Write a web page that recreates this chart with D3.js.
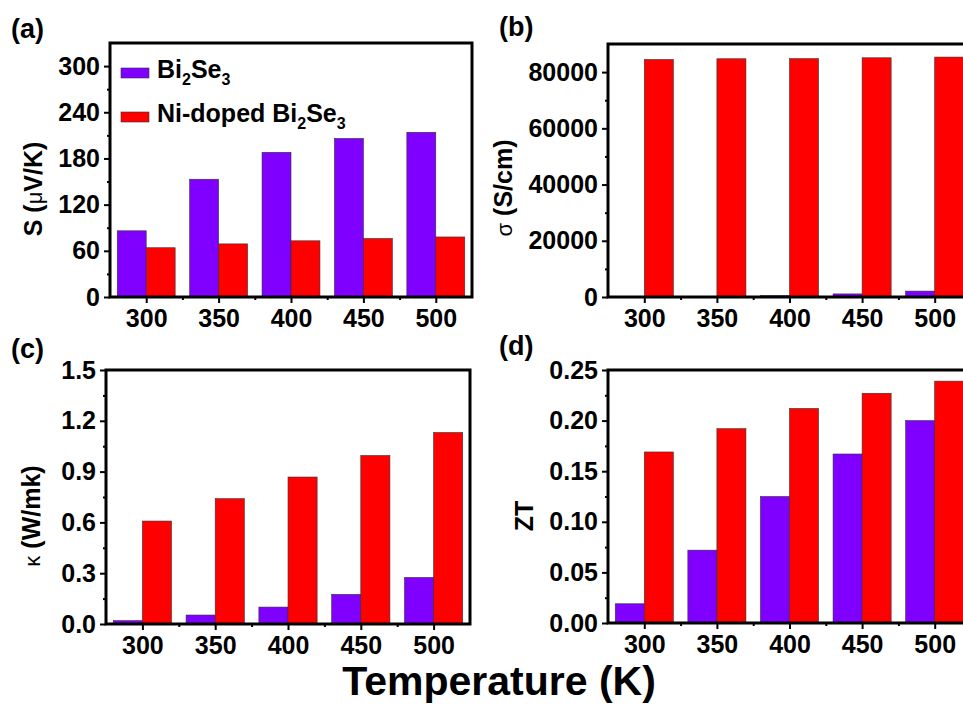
<!DOCTYPE html>
<html>
<head>
<meta charset="utf-8">
<script src="https://cdn.jsdelivr.net/npm/d3@7"></script>
<style>
  body { margin: 0; background: #fff; }
  svg { font-family: "Liberation Sans", Arial, sans-serif; font-weight: bold; }
</style>
</head>
<body>
<svg id="fig" width="963" height="704"></svg>
<script>
// temperatures (K)
const temps = [300, 350, 400, 450, 500];

// (a) Seebeck coefficient, uV/K
const seebeckPure = [86, 153, 188, 206, 214];
const seebeckNi = [64, 69, 73, 76, 78];

// (b) electrical conductivity, S/cm
const sigmaPure = [20, 100, 500, 1100, 2100];
const sigmaNi = [84500, 84750, 84800, 85100, 85350];

// (c) thermal conductivity, W/mK
const kappaPure = [0.02, 0.053, 0.10, 0.175, 0.275];
const kappaNi = [0.608, 0.74, 0.868, 0.995, 1.131];

// (d) figure of merit
const ztPure = [0.019, 0.072, 0.125, 0.167, 0.20];
const ztNi = [0.169, 0.192, 0.212, 0.227, 0.239];

const seriesNames = ["Bi2Se3", "Ni-doped Bi2Se3"];
const colors = ["#7f00ff", "#ff0000"];
const fontFam = '"Liberation Sans", Arial, sans-serif';

const svg = d3.select("#fig");

function styleAxis(sel) {
  sel.attr("font-family", fontFam).attr("font-size", 25).attr("font-weight", "bold");
  sel.select(".domain").remove();
  sel.selectAll(".tick line").attr("stroke-width", 2);
  sel.selectAll(".tick text").attr("fill", "#000").style("font-size", "25px");
}

function drawPanel(p) {
  const x = d3.scaleLinear().domain([275, 525]).range([p.left, p.right]);
  const y = d3.scaleLinear().domain(p.yDomain).range([p.bottom, p.top]);
  const g = svg.append("g");

  // bars: pure to the left of each temperature, Ni-doped to the right
  [p.pure, p.ni].forEach((vals, s) => {
    g.selectAll(null)
      .data(temps.map((t, i) => ({ t, v: vals[i] })))
      .enter().append("rect")
      .attr("x", d => s === 0 ? x(d.t - 20) : x(d.t))
      .attr("width", x(300) - x(280))
      .attr("y", d => y(d.v))
      .attr("height", d => y(0) - y(d.v))
      .attr("fill", colors[s])
      .attr("stroke", "#333")
      .attr("stroke-width", 0.6);
  });

  // frame
  g.append("rect")
    .attr("x", p.left).attr("y", p.top)
    .attr("width", p.right - p.left).attr("height", p.bottom - p.top)
    .attr("fill", "none").attr("stroke", "#000").attr("stroke-width", 3);

  // y axis (major + minor)
  g.append("g").attr("transform", `translate(${p.left},0)`)
    .call(d3.axisLeft(y).tickValues(p.yTicks).tickFormat(p.fmt).tickSize(6).tickPadding(4))
    .call(styleAxis);
  g.append("g").attr("transform", `translate(${p.left},0)`)
    .call(d3.axisLeft(y).tickValues(p.yMinor).tickFormat("").tickSize(3))
    .call(styleAxis);

  // x axis (major + minor)
  g.append("g").attr("transform", `translate(0,${p.bottom})`)
    .call(d3.axisBottom(x).tickValues(temps).tickFormat(d3.format("d")).tickSize(6).tickPadding(6))
    .call(styleAxis);
  g.append("g").attr("transform", `translate(0,${p.bottom})`)
    .call(d3.axisBottom(x).tickValues([325, 375, 425, 475]).tickFormat("").tickSize(3))
    .call(styleAxis);

  // y label
  const lab = g.append("text")
    .attr("transform", `translate(${p.labelX},${p.labelY}) rotate(-90)`)
    .attr("text-anchor", "middle")
    .attr("font-size", 25);
  p.label.forEach(part => {
    lab.append("tspan").attr("font-weight", part.w || "bold")
      .attr("font-size", part.s || 25).text(part.t);
  });

  // panel letter
  g.append("text").attr("x", p.tagX).attr("y", p.tagY)
    .attr("font-size", 27).text(p.tag);
}

drawPanel({
  left: 110, right: 472, top: 43, bottom: 297,
  yDomain: [0, 330], yTicks: [0, 60, 120, 180, 240, 300], yMinor: [30, 90, 150, 210, 270],
  fmt: d3.format("d"), pure: seebeckPure, ni: seebeckNi,
  label: [{ t: "S (" }, { t: "\u03bc", w: "normal", s: 22 }, { t: "V/K)" }],
  labelX: 42, labelY: 189, tag: "(a)", tagX: 11, tagY: 38
});
drawPanel({
  left: 608, right: 971, top: 44, bottom: 297,
  yDomain: [0, 90000], yTicks: [0, 20000, 40000, 60000, 80000], yMinor: [10000, 30000, 50000, 70000],
  fmt: d3.format("d"), pure: sigmaPure, ni: sigmaNi,
  label: [{ t: "\u03c3", w: "normal", s: 22 }, { t: " (S/cm)" }],
  labelX: 512, labelY: 188, tag: "(b)", tagX: 499, tagY: 36
});
drawPanel({
  left: 106, right: 470, top: 370, bottom: 624,
  yDomain: [0, 1.5], yTicks: [0, 0.3, 0.6, 0.9, 1.2, 1.5], yMinor: [0.15, 0.45, 0.75, 1.05, 1.35],
  fmt: d3.format(".1f"), pure: kappaPure, ni: kappaNi,
  label: [{ t: "\u03ba", w: "normal", s: 22 }, { t: " (W/mk)" }],
  labelX: 40, labelY: 516, tag: "(c)", tagX: 11, tagY: 358
});
drawPanel({
  left: 608, right: 971, top: 370, bottom: 623,
  yDomain: [0, 0.25], yTicks: [0, 0.05, 0.10, 0.15, 0.20, 0.25], yMinor: [0.025, 0.075, 0.125, 0.175, 0.225],
  fmt: d3.format(".2f"), pure: ztPure, ni: ztNi,
  label: [{ t: "ZT" }],
  labelX: 533, labelY: 516, tag: "(d)", tagX: 499, tagY: 355
});

// legend in panel (a)
const legend = svg.append("g");
seriesNames.forEach((name, i) => {
  const ly = 68 + i * 44;
  legend.append("rect").attr("x", 121).attr("y", ly).attr("width", 28).attr("height", 10)
    .attr("fill", colors[i]).attr("stroke", "#333").attr("stroke-width", 0.6);
  const t = legend.append("text").attr("x", 157).attr("y", ly + 10).attr("font-size", 25);
  const base = name.replace("Bi2Se3", "");
  if (base) t.append("tspan").text(base);
  t.append("tspan").text("Bi");
  t.append("tspan").attr("font-size", 16).attr("dy", 7).text("2");
  t.append("tspan").attr("dy", -7).text("Se");
  t.append("tspan").attr("font-size", 16).attr("dy", 7).text("3");
});

// shared x label
svg.append("text").attr("x", 499).attr("y", 695)
  .attr("text-anchor", "middle").attr("font-size", 41)
  .text("Temperature (K)");
</script>
</body>
</html>
